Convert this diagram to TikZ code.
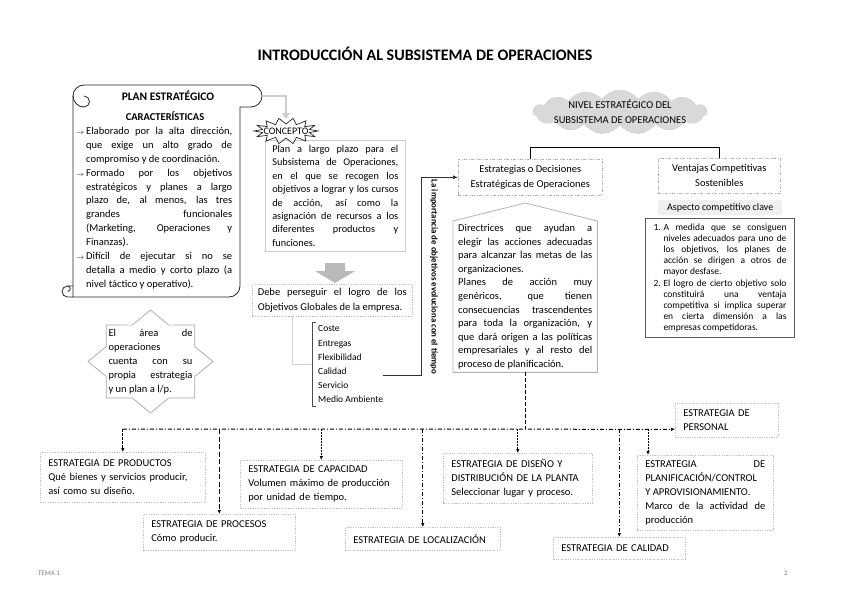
\documentclass[tikz,border=0pt]{standalone}
\usepackage{fontspec}
\setmainfont{Carlito}
\usetikzlibrary{positioning, arrows.meta, shapes.symbols}
\tolerance=10000
\hbadness=10000

\begin{document}
\begin{tikzpicture}[
        x=1pt, y=-1pt,
        txt/.style={
            inner sep=0pt,
            align=justify,
            font=\fontsize{10.5}{13.6}\selectfont
        },
        scroll/.style={
            draw=black!85,
            line width=0.8pt
        },
        softbox/.style={
            draw=gray!40,
            line width=0.6pt,
            anchor=north west
        },
        dashbox/.style={
            draw=gray!60,
            line width=0.6pt,
            dash pattern=on 3pt off 1.5pt on 1pt off 1.5pt,
            anchor=north west,
            align=center,
            font=\fontsize{10.5}{15}\selectfont
        },
        stratbox/.style={
            draw=gray!50,
            line width=0.6pt,
            dash pattern=on 1.2pt off 1.2pt,
            anchor=north west,
            inner xsep=8pt,
            inner ysep=0pt,
            align=left,
            font=\fontsize{10.5}{14}\selectfont
        },
        grayarrow/.style={
            draw=gray!40,
            line width=2pt,
            -{Triangle[length=6pt, width=8pt]}
        },
        thinarrow/.style={
            draw=gray!35,
            line width=0.6pt,
            -{Stealth[length=3pt]}
        },
        linkarrow/.style={
            draw=black!80,
            line width=0.8pt,
            -{Latex[length=5pt, width=4pt]}
        },
        branch/.style={
            line width=1pt,
            -{Latex[length=4pt, width=3.5pt]}
        }
    ]

        \useasboundingbox (0,0) rectangle (848,599);

        \node[font=\bfseries\fontsize{16}{18}\selectfont] (titulo) at (425,54) {INTRODUCCIÓN AL SUBSISTEMA DE OPERACIONES};

        % plan estrategico (pergamino)
        \draw[scroll] (84,85) -- (251,85) arc[start angle=90, end angle=-90, radius=11pt] -- (240,107)
            -- (240,286) arc[start angle=0, end angle=-90, radius=11pt] -- (73,297) -- (73,96);
        \draw[scroll] (84,85) arc[start angle=90, end angle=270, radius=11pt] arc[start angle=-90, end angle=90, radius=5.5pt];
        \draw[scroll] (73,286) -- (67.5,286) arc[start angle=90, end angle=270, radius=5.5pt] -- (73,297);
        \draw[scroll] (67.5,286) arc[start angle=90, end angle=-90, radius=2.75pt];

        \node[font=\bfseries\fontsize{11.5}{13}\selectfont] (plan) at (168,96) {PLAN ESTRATÉGICO};
        \node[font=\bfseries\fontsize{10.5}{12}\selectfont] (caracteristicas) at (165,116) {CARACTERÍSTICAS};
        \node[txt, anchor=north west, text width=156pt, font=\fontsize{10.5}{13.9}\selectfont] (caracttexto) at (76,127) {%
            \noindent\hangindent=10pt\hangafter=1\makebox[10pt][l]{\scriptsize$\rightarrow$}Elaborado por la alta dirección,\linebreak
            que exige un alto grado de\linebreak compromiso y de coordinación.\par
            \noindent\hangindent=10pt\hangafter=1\makebox[10pt][l]{\scriptsize$\rightarrow$}Formado por los objetivos\linebreak
            estratégicos y planes a largo\linebreak plazo de, al menos, las tres\linebreak grandes funcionales\linebreak
            (Marketing, Operaciones y\linebreak Finanzas).\par
            \noindent\hangindent=10pt\hangafter=1\makebox[10pt][l]{\scriptsize$\rightarrow$}Difícil de ejecutar si no se\linebreak
            detalla a medio y corto plazo (a\linebreak nivel táctico y operativo).\par};

        % concepto
        \node[softbox, text width=126pt, inner xsep=7pt, inner ysep=5pt, align=justify,
            font=\fontsize{10.3}{13.4}\selectfont] (conceptobox) at (265,140) {%
            Plan a largo plazo para el\linebreak Subsistema de Operaciones,\linebreak en el que se recogen los\linebreak
            objetivos a lograr y los cursos\linebreak de acción, así como la\linebreak asignación de recursos a los\linebreak
            diferentes productos y\linebreak funciones.};
        \coordinate (estrella) at (286,131);
        \draw[draw=black!85, fill=white, line width=0.7pt] ([shift={(estrella)}]0:32 and 13)
            \foreach \k [evaluate=\k as \rx using {ifthenelse(mod(\k,2)==0,32,24)},
                         evaluate=\k as \ry using {ifthenelse(mod(\k,2)==0,13,7)}] in {1,...,27} {
                -- ([shift={(estrella)}]\k*180/14:{\rx} and {\ry})
            } -- cycle;
        \node[minimum width=62pt, minimum height=24pt, inner sep=0pt, font=\fontsize{10}{12}\selectfont] (concepto) at (estrella) {CONCEPTO};

        \coordinate (pergaminofin) at (262,96);
        \draw[grayarrow] (pergaminofin) -| (concepto.north);

        \fill[gray!55] (325,263) -- (345,263) -- (345,271) -- (355,271) -- (335,283) -- (315,271) -- (325,271) -- cycle;

        \node[draw=gray!50, line width=0.6pt, dash pattern=on 1.2pt off 1.2pt, anchor=north west, text width=149pt,
            inner xsep=5.5pt, inner ysep=4pt, align=justify, font=\fontsize{10.5}{14.5}\selectfont] (debe) at (252,284)
            {Debe perseguir el logro de los\linebreak Objetivos Globales de la empresa.};

        \node[anchor=north west, inner xsep=6pt, inner ysep=3.5pt, align=left, font=\fontsize{9.5}{14.2}\selectfont] (criterios) at (312,322)
            {Coste\\Entregas\\Flexibilidad\\Calidad\\Servicio\\Medio Ambiente};
        \draw[draw=black!70, line width=0.7pt] ([xshift=4pt]criterios.north west) -- (criterios.north west)
            -- (criterios.south west) -- ([xshift=4pt]criterios.south west);
        \draw[thinarrow] ([xshift=-40pt]debe.south) |- (criterios.west);

        \node[txt, text width=84pt, font=\fontsize{10.5}{14}\selectfont] (area) at (150.5,361.5)
            {El área de\linebreak operaciones\linebreak cuenta con su\linebreak propia estrategia\linebreak y un plan a l/p.};
        \draw[draw=gray!70, line width=0.7pt] ([shift={(area.center)}]0:62.5 and 51.5)
            \foreach \k [evaluate=\k as \rx using {ifthenelse(mod(\k,2)==0,62.5,47.8)},
                         evaluate=\k as \ry using {ifthenelse(mod(\k,2)==0,51.5,39.4)}] in {1,...,15} {
                -- ([shift={(area.center)}]\k*22.5:{\rx} and {\ry})
            } -- cycle;

        % nivel estrategico
        \node[cloud, cloud puffs=15, cloud puff arc=110, cloud ignores aspect, minimum width=174pt, minimum height=44pt,
            fill=gray!30, draw=gray!40] (nube) at (620,112) {};
        \node[align=center, font=\fontsize{10.5}{15}\selectfont] (nivel) at (nube.center) {NIVEL ESTRATÉGICO DEL\\SUBSISTEMA DE OPERACIONES};

        \node[dashbox, minimum width=144pt, minimum height=36pt] (estrategias) at (458,159) {Estrategias o Decisiones\\Estratégicas de Operaciones};
        \node[dashbox, minimum width=122pt, minimum height=35pt] (ventajas) at (658,158) {Ventajas Competitivas\\Sostenibles};
        \draw[line width=1pt] (estrategias.north) -- ++(0,-12) -| (ventajas.north);

        \node[fill=gray!12, minimum width=124pt, minimum height=15pt, anchor=north west, inner sep=0pt,
            font=\fontsize{10}{12}\selectfont] (aspecto) at (658,200) {Aspecto competitivo clave};

        \node[draw=gray!70!black, line width=1pt, anchor=north west, text width=133pt, inner xsep=8pt, inner ysep=5pt,
            align=justify, font=\fontsize{9.5}{11.2}\selectfont] (logro) at (645,218) {%
            \noindent\hangindent=10pt\hangafter=1\makebox[10pt][l]{1.}A medida que se consiguen\linebreak
            niveles adecuados para uno de\linebreak los objetivos, los planes de\linebreak acción se dirigen a otros de\linebreak
            mayor desfase.\par
            \noindent\hangindent=10pt\hangafter=1\makebox[10pt][l]{2.}El logro de cierto objetivo solo\linebreak
            constituirá una ventaja\linebreak competitiva si implica superar\linebreak en cierta dimensión a las\linebreak
            empresas competidoras.\par};

        \node[txt, anchor=north west, text width=134pt, inner xsep=5pt, inner ysep=3pt] (directrices) at (453,221) {%
            Directrices que ayudan a\linebreak elegir las acciones adecuadas\linebreak para alcanzar las metas de las\linebreak
            organizaciones.\par
            Planes de acción muy\linebreak genéricos, que tienen\linebreak consecuencias trascendentes\linebreak
            para toda la organización, y\linebreak que dará origen a las políticas\linebreak empresariales y al resto del\linebreak
            proceso de planificación.};
        \draw[draw=gray!60, line width=0.8pt] (directrices.south west) -- (directrices.north west)
            -- ([yshift=18pt]directrices.north) -- (directrices.north east) -- (directrices.south east) -- cycle;

        \node[rotate=-90, font=\bfseries\fontsize{8.8}{10}\selectfont] (importancia) at (434,277) {La importancia de objetivos evoluciona con el tiempo};
        \coordinate (calidadfin) at (383,375);
        \draw[linkarrow] (calidadfin) -| ([xshift=-37pt]estrategias.west) -- (estrategias.west);

        % estrategias
        \node[stratbox, text width=149pt, minimum height=50pt] (productos) at (40,452)
            {ESTRATEGIA DE PRODUCTOS\\Qué bienes y servicios producir,\\así como su diseño.};
        \node[stratbox, text width=136pt, minimum height=36pt] (procesos) at (143,514)
            {ESTRATEGIA DE PROCESOS\\Cómo producir.};
        \node[stratbox, text width=146pt, minimum height=48pt] (capacidad) at (240,460)
            {ESTRATEGIA DE CAPACIDAD\\Volumen máximo de producción\\por unidad de tiempo.};
        \node[stratbox, text width=139pt, minimum height=23pt] (localizacion) at (345,527)
            {ESTRATEGIA DE LOCALIZACIÓN};
        \node[stratbox, text width=133pt, minimum height=50pt] (diseno) at (443,453)
            {ESTRATEGIA DE DISEÑO Y\\DISTRIBUCIÓN DE LA PLANTA\\Seleccionar lugar y proceso.};
        \node[stratbox, text width=116pt, minimum height=22pt] (calidad) at (553,537)
            {ESTRATEGIA DE CALIDAD};
        \node[stratbox, text width=120pt, minimum height=75pt, align=justify] (planificacion) at (637,455)
            {ESTRATEGIA DE\linebreak PLANIFICACIÓN/CONTROL\linebreak Y APROVISIONAMIENTO.\par Marco de la actividad de\linebreak producción};
        \node[stratbox, text width=87pt, minimum height=34pt] (personal) at (675,403)
            {ESTRATEGIA DE\\PERSONAL};

        \coordinate (eje) at (0,429);
        \draw[line width=1pt, dash pattern=on 4pt off 2pt] (directrices.south) -- (directrices.south |- eje);
        \draw[branch, dash pattern=on 4pt off 2pt on 1pt off 2pt] (productos.north |- eje) -- ([yshift=-9pt]personal.west);
        \draw[branch, dash pattern=on 2.5pt off 1.5pt] (productos.north |- eje) -- (productos.north);
        \draw[branch, dash pattern=on 5pt off 2.5pt] (procesos.north |- eje) -- (procesos.north);
        \draw[branch, dash pattern=on 1.5pt off 1.5pt] (capacidad.north |- eje) -- (capacidad.north);
        \draw[branch, dash pattern=on 4pt off 2pt on 1pt off 2pt] (localizacion.north |- eje) -- (localizacion.north);
        \draw[branch, dash pattern=on 1.5pt off 1.5pt] (diseno.north |- eje) -- (diseno.north);
        \draw[branch, dash pattern=on 4pt off 2pt on 1pt off 2pt] (calidad.north |- eje) -- (calidad.north);
        \draw[branch, dash pattern=on 1.5pt off 1.5pt] ([xshift=11pt]planificacion.north west |- eje) -- ([xshift=11pt]planificacion.north west);

        \node[font=\fontsize{7}{8}\selectfont, text=gray] (tema) at (49,573) {TEMA 1};
        \node[font=\fontsize{7}{8}\selectfont, text=gray] (pagina) at (786,573) {2};

    \end{tikzpicture}
\end{document}
